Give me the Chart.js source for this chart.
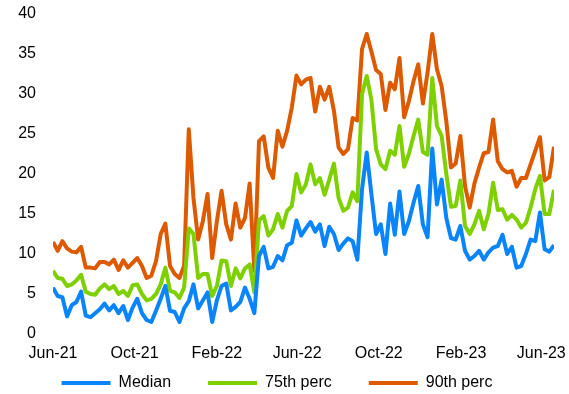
<!DOCTYPE html>
<html>
<head>
<meta charset="utf-8">
<script src="https://cdn.jsdelivr.net/npm/chart.js@4/dist/chart.umd.min.js"></script>
<style>
  html, body { margin: 0; padding: 0; background: #fff; }
  #wrap { width: 569px; height: 394px; }
</style>
</head>
<body>
<div id="wrap"><canvas id="chart" width="569" height="394"></canvas></div>
<script>
// weekly observations, first one in early June 2021
const startDate = Date.UTC(2021, 5, 4);
const weekMs = 7 * 864e5;

const tickDates = [
  Date.UTC(2021, 5, 4), Date.UTC(2021, 9, 4), Date.UTC(2022, 1, 4),
  Date.UTC(2022, 5, 4), Date.UTC(2022, 9, 4), Date.UTC(2023, 1, 4),
  Date.UTC(2023, 5, 4)
];
const tickLabels = ["Jun-21", "Oct-21", "Feb-22", "Jun-22", "Oct-22", "Feb-23", "Jun-23"];

const median = [
  5.8, 4.75, 4.6, 2.2, 3.6, 4.0, 5.3, 2.3, 2.1, 2.6,
  3.1, 3.8, 2.95, 3.6, 2.6, 3.5, 1.75, 3.3, 4.4, 2.6,
  1.75, 1.5, 2.9, 4.4, 6.0, 2.9, 2.75, 1.5, 3.2, 4.1,
  6.2, 3.2, 4.2, 5.2, 1.5, 4.2, 6.0, 6.3, 2.95, 3.4,
  4.0, 5.8, 4.4, 2.6, 9.75, 10.9, 8.2, 8.4, 9.75, 9.2,
  11.1, 11.4, 14.2, 12.3, 13.2, 14.0,
  12.8, 13.7, 11.0, 13.4, 12.5, 10.5, 11.3, 11.95, 11.6, 9.3,
  18.1, 22.7, 17.5, 12.5, 13.7, 10.0, 16.3, 12.4, 17.8, 12.5,
  14.1, 16.4, 18.5, 13.7, 12.1, 23.2, 16.2, 19.3, 14.5, 12.0,
  11.8, 13.5, 10.4, 9.3, 9.75, 10.4, 9.3, 10.2, 10.8, 11.0,
  12.4, 10.0, 10.9, 8.3, 8.5, 10.0, 11.8, 11.6, 15.2, 10.6,
  10.3, 11.1
];

const perc75 = [
  7.9, 7.0, 6.9, 6.0, 6.2, 6.7, 7.4, 5.3, 5.0, 4.9,
  5.7, 6.2, 5.6, 6.0, 5.0, 5.4, 4.75, 6.1, 6.2, 5.0,
  4.2, 4.4, 5.0, 6.2, 8.3, 5.4, 5.2, 4.5, 5.8, 13.2,
  12.5, 7.0, 7.5, 7.5, 4.75, 6.0, 9.2, 9.1, 6.0, 8.2,
  6.95, 8.2, 8.7, 5.2, 14.2, 14.75, 12.3, 13.1, 15.0, 13.3,
  15.4, 16.0, 20.0, 17.7, 18.7, 21.2,
  18.7, 19.5, 17.4, 19.3, 21.3, 17.0, 15.4, 15.8, 17.7, 16.6,
  30.0, 32.25, 29.3, 23.1, 21.2, 20.6, 22.9, 22.4, 26.0, 20.9,
  22.5, 24.75, 26.8, 22.75, 22.4, 32.0, 26.0, 24.75, 20.0, 15.9,
  16.0, 19.2, 13.5, 12.5, 13.7, 15.4, 13.1, 15.0, 18.9, 15.5,
  15.6, 14.3, 14.9, 14.3, 13.3, 13.9, 15.8, 18.1, 19.75, 15.0,
  15.0, 18.0
];

const perc90 = [
  11.5, 10.4, 11.6, 10.7, 10.3, 10.2, 10.9, 8.3, 8.3, 8.2,
  9.0, 9.0, 8.7, 9.3, 8.0, 9.2, 8.3, 8.9, 9.5, 8.5,
  7.0, 7.3, 9.1, 12.5, 13.8, 8.5, 7.5, 7.0, 8.5, 25.6,
  17.0, 11.8, 14.1, 17.5, 9.5, 14.1, 17.9, 13.7, 11.8, 16.3,
  13.3, 14.5, 18.8, 7.9, 24.1, 24.7, 20.8, 19.5, 25.4, 23.4,
  25.4, 28.3, 32.3, 31.2, 31.8, 32.0,
  27.8, 30.9, 29.3, 30.9, 27.9, 23.3, 22.5, 23.1, 27.0, 26.7,
  35.6, 37.5, 35.3, 33.0, 32.5, 28.0, 31.4, 30.6, 34.5, 27.1,
  29.1, 31.6, 33.7, 28.8, 32.7, 37.5, 33.1, 31.0, 26.6, 20.8,
  21.3, 24.75, 18.5, 15.8, 18.8, 20.8, 22.6, 22.75, 26.8, 21.6,
  20.6, 20.2, 20.4, 18.4, 19.5, 19.5, 21.2, 22.9, 24.6, 19.2,
  19.6, 23.4
];

const seriesNames = ["Median", "75th perc", "90th perc"];
const seriesColors = ["#0a85f9", "#7ed000", "#de5a00"];

function toPoints(values) {
  return values.map((v, i) => ({ x: startDate + i * weekMs, y: v }));
}

const font = { family: "'Liberation Sans', Arial, sans-serif", size: 16 };

const datasets = [median, perc75, perc90].map((vals, i) => ({
  label: seriesNames[i],
  data: toPoints(vals),
  borderColor: seriesColors[i],
  backgroundColor: seriesColors[i],
  borderWidth: 4,
  borderJoinStyle: "round",
  pointRadius: 0,
  tension: 0
}));

const lastX = startDate + (median.length - 1) * weekMs;

// legend padding is wide (item spacing), so pull the legend row up under the axis labels
const legendShift = {
  id: "legendShift",
  afterLayout(chart) {
    const lg = chart.legend;
    lg.top = 338;
    lg.bottom = chart.height;
    lg.height = lg.bottom - lg.top;
  }
};

new Chart(document.getElementById("chart"), {
  type: "line",
  data: { datasets },
  plugins: [legendShift],
  options: {
    responsive: false,
    animation: false,
    layout: { padding: { left: 0, right: 15, top: 14, bottom: 0 } },
    plugins: {
      tooltip: { enabled: false },
      legend: {
        position: "bottom",
        maxHeight: 26,
        labels: {
          color: "#000",
          font,
          boxWidth: 49,
          boxHeight: 4,
          padding: 37,
          generateLabels: (chart) =>
            Chart.defaults.plugins.legend.labels.generateLabels(chart)
              .map(l => ({ ...l, lineWidth: 0 }))
        }
      }
    },
    scales: {
      x: {
        type: "linear",
        min: startDate,
        max: lastX,
        grid: { display: false, drawTicks: false },
        border: { display: false },
        afterBuildTicks: (scale) => {
          scale.ticks = tickDates.map(v => ({ value: v }));
        },
        afterFit: (scale) => {
          scale.height = 34;
          scale.paddingLeft = 0;
          scale.paddingRight = 0;
        },
        ticks: {
          color: "#000",
          font,
          padding: 10,
          maxRotation: 0,
          autoSkip: false,
          callback: (v) => {
            const i = tickDates.indexOf(v);
            return i >= 0 ? tickLabels[i] : "";
          }
        }
      },
      y: {
        min: 0,
        max: 40,
        grid: { display: false, drawTicks: false },
        border: { display: false },
        afterFit: (scale) => {
          scale.width = 53;
          scale.paddingTop = 0;
          scale.paddingBottom = 0;
        },
        ticks: { color: "#000", font, stepSize: 5, padding: 17 }
      }
    }
  }
});
</script>
</body>
</html>
